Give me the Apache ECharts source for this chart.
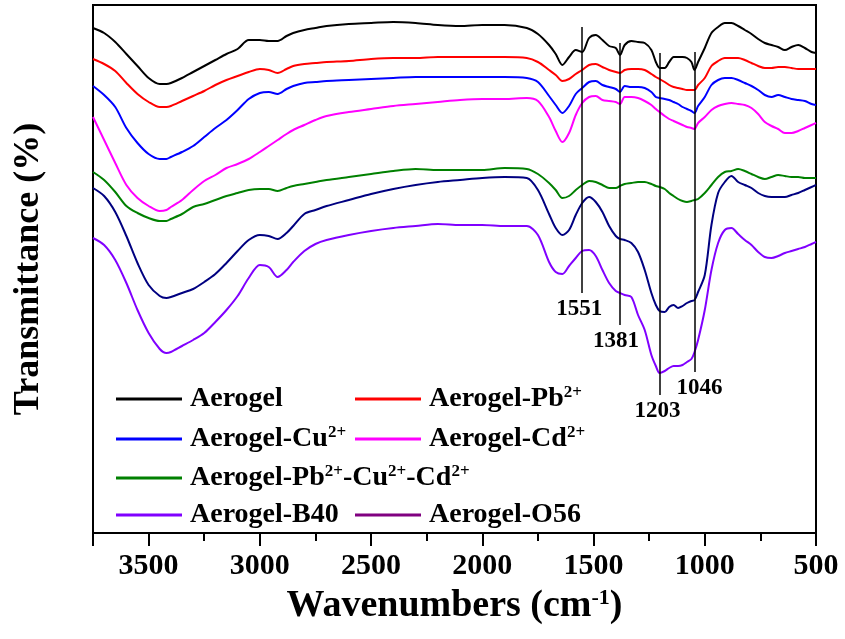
<!DOCTYPE html>
<html>
<head>
<meta charset="utf-8">
<script src="https://cdn.jsdelivr.net/npm/echarts@6/dist/echarts.min.js"></script>
<style>
  html, body { margin: 0; padding: 0; background: #fff; }
  #chart { width: 845px; height: 639px; }
</style>
</head>
<body>
<div id="chart"></div>
<script>
// FTIR spectra of the aerogel samples (transmittance in arbitrary units, curves offset)
const wavenumbers = [
  3750, 3700, 3650, 3600, 3550, 3500, 3450, 3420, 3400, 3350,
  3300, 3250, 3200, 3150, 3100, 3050, 3000, 2960, 2920, 2880,
  2850, 2800, 2750, 2700, 2600, 2500, 2400, 2300, 2200, 2100,
  2000, 1900, 1800, 1750, 1700, 1670, 1640, 1610, 1580, 1551,
  1520, 1490, 1460, 1430, 1400, 1381, 1360, 1330, 1300, 1270,
  1240, 1220, 1203, 1180, 1160, 1140, 1120, 1100, 1080, 1060,
  1046, 1030, 1000, 970, 940, 910, 880, 850, 820, 790,
  760, 730, 700, 670, 640, 610, 580, 550, 520, 500
];

const aerogel = [
  505, 500, 491, 479, 467, 455, 449, 449, 450, 455,
  461, 467, 473, 479, 484, 493, 493, 492, 492, 497,
  500, 503, 505, 507, 509, 510, 511, 510, 508, 507,
  508, 508, 505, 499, 488, 479, 468, 476, 483, 481,
  495, 498, 493, 487, 485, 478, 488, 492, 491, 490,
  483, 471, 465, 465, 471, 476, 476, 476, 475, 471,
  463, 471, 485, 500, 506, 510, 510, 507, 503, 499,
  494, 490, 488, 486, 483, 486, 488, 485, 481, 480
];

const aerogelPb = [
  474, 469, 462, 450, 439, 431, 426, 426, 427, 432,
  437, 442, 448, 453, 457, 461, 464, 463, 460, 464,
  467, 469, 470, 471, 472, 474, 475, 475, 476, 476,
  476, 476, 475, 471, 463, 458, 452, 454, 459, 463,
  468, 469, 466, 463, 461, 460, 463, 464, 464, 463,
  459, 456, 454, 451, 448, 446, 445, 444, 443, 443,
  443, 448, 455, 467, 472, 475, 475, 475, 473, 470,
  467, 465, 465, 466, 466, 465, 464, 464, 464, 464
];

const aerogelCu = [
  447, 438, 426, 405, 390, 379, 374, 374, 376, 381,
  387, 396, 405, 413, 423, 434, 440, 441, 439, 444,
  447, 450, 451, 452, 453, 454, 455, 456, 456, 456,
  456, 456, 455, 451, 437, 428, 420, 427, 439, 445,
  451, 452, 448, 446, 444, 441, 447, 446, 446, 445,
  441, 436, 435, 434, 433, 431, 429, 426, 424, 422,
  420, 427, 436, 448, 453, 455, 455, 453, 450, 447,
  443, 438, 436, 438, 436, 434, 433, 432, 429, 428
];

const aerogelCd = [
  416, 393, 370, 348, 335, 327, 322, 323, 326, 333,
  343, 352, 358, 365, 369, 374, 381, 387, 393, 399,
  403, 408, 413, 417, 421, 424, 427, 429, 431, 433,
  434, 434, 435, 432, 416, 402, 391, 400, 418, 430,
  436, 437, 433, 432, 431, 429, 436, 436, 435, 432,
  428, 424, 421, 417, 414, 412, 410, 408, 406, 405,
  404, 410, 416, 423, 427, 429, 430, 429, 428, 425,
  419, 411, 407, 404, 400, 400, 402, 405, 408, 410
];

const aerogelPbCuCd = [
  361, 353, 341, 327, 320, 315, 312, 312, 314, 319,
  326, 329, 333, 337, 340, 343, 344, 344, 342, 345,
  347, 349, 351, 353, 356, 359, 362, 364, 363, 363,
  363, 365, 364, 359, 350, 343, 335, 337, 343, 348,
  352, 351, 348, 345, 345, 347, 349, 350, 351, 351,
  349, 347, 346, 344, 340, 337, 334, 332, 331, 332,
  333, 334, 340, 348, 356, 361, 362, 364, 362, 359,
  356, 354, 356, 358, 357, 356, 356, 355, 355, 355
];

const aerogelB40 = [
  295, 288, 273, 250, 223, 200, 184, 180, 181, 187,
  193, 200, 211, 223, 237, 255, 268, 266, 256, 263,
  271, 282, 289, 293, 298, 302, 305, 307, 309, 308,
  308, 307, 307, 298, 271, 261, 259, 267, 275, 282,
  283, 277, 263, 250, 242, 240, 238, 236, 218, 203,
  178, 167, 160, 162, 165, 167, 167, 168, 171, 174,
  181, 193, 223, 263, 290, 303, 305, 299, 293, 288,
  281, 276, 275, 277, 280, 282, 284, 286, 289, 291
];

const aerogelO56 = [
  345, 337, 321, 297, 270, 248, 237, 235, 236, 240,
  244, 251, 259, 270, 282, 293, 298, 297, 294, 300,
  307, 319, 323, 327, 333, 339, 344, 348, 351, 353,
  355, 356, 355, 343, 319, 305, 298, 303, 318, 330,
  336, 331, 321, 307, 297, 294, 293, 290, 281, 263,
  240, 228, 222, 221, 226, 228, 225, 227, 230, 232,
  233, 241, 258, 308, 340, 351, 357, 351, 348, 345,
  340, 337, 336, 336, 336, 338, 340, 343, 346, 348
];

const seriesNames = [
  'Aerogel', 'Aerogel-Pb2+', 'Aerogel-Cu2+', 'Aerogel-Cd2+',
  'Aerogel-Pb2+-Cu2+-Cd2+', 'Aerogel-B40', 'Aerogel-O56'
];
const seriesValues = [aerogel, aerogelPb, aerogelCu, aerogelCd, aerogelPbCuCd, aerogelB40, aerogelO56];

// assigned band positions (cm-1) and the vertical extent of each marker line
const markerWavenumbers = [1551, 1381, 1203, 1046];
const markerTop = [506, 490, 480, 481];
const markerBottom = [240, 208, 138, 161];

// ---- styling ----
const FONT = 'Liberation Serif';
const curveColors = ['#000000', '#ff0000', '#0000ff', '#ff00ff', '#008000', '#8000ff', '#000080'];
const swatchColors = ['#000000', '#ff0000', '#0000ff', '#ff00ff', '#008000', '#8000ff', '#800080'];
const legendSlots = [[116, 384], [355, 384], [116, 424], [355, 424], [116, 463], [116, 500], [355, 500]];
const markerLabelShift = [-3, -4, -2, 5];

const supStyle = { fontFamily: FONT, fontWeight: 'bold', fontSize: 17, color: '#000', verticalAlign: 'top', lineHeight: 15 };
function withSup(name) { return name.replace(/2\+/g, '{sup|2+}'); }

const curveSeries = seriesNames.map((name, k) => ({
  name: name,
  type: 'line',
  data: wavenumbers.map((w, i) => [w, seriesValues[k][i]]),
  symbol: 'none',
  showSymbol: false,
  smooth: 0.3,
  silent: true,
  color: curveColors[k],
  lineStyle: { width: 2, color: curveColors[k] }
}));

const markerSeries = markerWavenumbers.map((w, k) => ({
  type: 'line',
  data: [],
  silent: true,
  markLine: {
    silent: true,
    symbol: 'none',
    animation: false,
    lineStyle: { color: '#000', width: 1.5, type: 'solid' },
    label: {
      show: true,
      position: 'end',
      formatter: String(w),
      fontFamily: FONT,
      fontWeight: 'bold',
      fontSize: 23,
      color: '#000',
      offset: [markerLabelShift[k], 0]
    },
    data: [[{ coord: [w, markerTop[k]] }, { coord: [w, markerBottom[k]] }]]
  }
}));

const legends = seriesNames.map((name, k) => ({
  data: [{ name: name, itemStyle: { color: swatchColors[k] } }],
  left: legendSlots[k][0],
  top: legendSlots[k][1],
  padding: 0,
  icon: 'rect',
  itemWidth: 66,
  itemHeight: 3,
  selectedMode: false,
  formatter: withSup,
  textStyle: {
    fontFamily: FONT, fontWeight: 'bold', fontSize: 28, color: '#000', lineHeight: 30,
    padding: [0, 0, 0, 3],
    rich: { sup: supStyle }
  }
}));

const axisFont = { fontFamily: FONT, fontWeight: 'bold', color: '#000' };

const option = {
  animation: false,
  backgroundColor: '#fff',
  grid: { left: 93, right: 29, top: 5, bottom: 106, show: true, borderColor: '#000', borderWidth: 2 },
  legend: legends,
  xAxis: [
    {
      type: 'value', min: 500, max: 3750, interval: 500, inverse: true, position: 'bottom',
      axisLine: { lineStyle: { color: '#000', width: 2 } },
      axisTick: { length: 13, lineStyle: { color: '#000', width: 2 } },
      axisLabel: Object.assign({ fontSize: 30, margin: 18, formatter: v => (v % 500 === 0 ? String(v) : '') }, axisFont),
      splitLine: { show: false },
      name: 'Wavenumbers (cm{sup|-1})',
      nameLocation: 'middle',
      nameGap: 54,
      nameTextStyle: Object.assign({
        fontSize: 38,
        rich: { sup: Object.assign({}, supStyle, { fontSize: 22, lineHeight: 20 }) }
      }, axisFont)
    },
    {
      type: 'value', min: 500, max: 3750, interval: 250, inverse: true, position: 'bottom',
      axisLine: { show: false },
      axisTick: { length: 8, lineStyle: { color: '#000', width: 2 } },
      axisLabel: { show: false },
      splitLine: { show: false }
    }
  ],
  yAxis: {
    type: 'value', min: 0, max: 528,
    axisLine: { show: false }, axisTick: { show: false }, axisLabel: { show: false }, splitLine: { show: false },
    name: 'Transmittance (%)',
    nameLocation: 'middle',
    nameGap: 46,
    nameTextStyle: Object.assign({ fontSize: 36 }, axisFont)
  },
  series: curveSeries.concat(markerSeries)
};

const chart = echarts.init(document.getElementById('chart'));
chart.setOption(option);
</script>
</body>
</html>
